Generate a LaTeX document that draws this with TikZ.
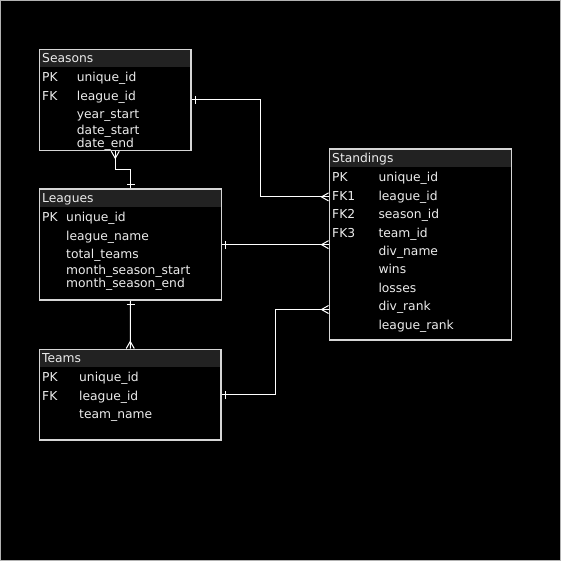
\documentclass[tikz,border=0pt]{standalone}
\usepackage{fontspec}
\setmainfont{DejaVu Sans}
\usetikzlibrary{calc}

\definecolor{hdrgray}{RGB}{34,34,34}
\definecolor{txtgray}{RGB}{236,236,236}
\definecolor{boxgray}{RGB}{214,214,214}

\tikzset{
  tbl/.style={draw=boxgray, line width=1.6pt, fill=black, inner sep=0pt,
    path picture={\fill[hdrgray] (path picture bounding box.north west)
      rectangle ([yshift=-18pt]path picture bounding box.north east);}},
  fld/.style={anchor=base west, inner sep=0pt, text=txtgray,
    font=\fontsize{12.3}{14}\selectfont},
  conn/.style={draw=white, line width=1pt},
}

% one-bar and crow's foot ends, angle points away from the table
\def\onebar(#1)(#2){\draw[conn] ($(#1)+(#2:3.5)+(#2+90:4)$) -- ($(#1)+(#2:3.5)+(#2-90:4)$);}
\def\crowfoot(#1)(#2){\draw[conn] ($(#1)+(#2+90:4)$) -- ($(#1)+(#2:7)$) -- ($(#1)+(#2-90:4)$);}

\begin{document}
\begin{tikzpicture}[x=1pt, y=-1pt]
			%%%%% BACKGROUND %%%%%
			\useasboundingbox (0, 0) rectangle (561, 561);
			\fill[black] (0, 0) rectangle (561, 561);
			\draw[gray!60, line width=1pt] (0.5, 0.5) rectangle (560.5, 560.5);
			
			%%%%% TABLES %%%%%
			\node[tbl, minimum width=151.5pt, minimum height=101pt] (seasons) at (115.25, 100) {};
			\node[tbl, minimum width=182pt, minimum height=110.7pt] (leagues) at (130.5, 244.65) {};
			\node[tbl, minimum width=181.5pt, minimum height=90.7pt] (teams) at (130.25, 394.65) {};
			\node[tbl, minimum width=182.2pt, minimum height=190.7pt] (standings) at (420.4, 244.65) {};
			
			% Seasons
			\node[fld] (sea-title) at (42, 62.7) {Seasons};
			\node[fld] (sea-pk) at (42, 81.5) {PK};
			\node[fld] (sea-fk) at (42, 100.2) {FK};
			\node[fld] (sea-f1) at (76.7, 81.5) {unique\_id};
			\node[fld] (sea-f2) at (76.7, 100.2) {league\_id};
			\node[fld] (sea-f3) at (76.7, 118.8) {year\_start};
			\node[fld] (sea-f4) at (76.7, 134.2) {date\_start};
			\node[fld] (sea-f5) at (76.7, 147.2) {date\_end};
			
			% Leagues
			\node[fld] (lea-title) at (42, 202.7) {Leagues};
			\node[fld] (lea-pk) at (42, 221.5) {PK};
			\node[fld] (lea-f1) at (66, 221.5) {unique\_id};
			\node[fld] (lea-f2) at (66, 240.2) {league\_name};
			\node[fld] (lea-f3) at (66, 258.8) {total\_teams};
			\node[fld] (lea-f4) at (66, 274.2) {month\_season\_start};
			\node[fld] (lea-f5) at (66, 287.2) {month\_season\_end};
			
			% Teams
			\node[fld] (tea-title) at (42, 362.7) {Teams};
			\node[fld] (tea-pk) at (42, 381.5) {PK};
			\node[fld] (tea-fk) at (42, 400.2) {FK};
			\node[fld] (tea-f1) at (79, 381.5) {unique\_id};
			\node[fld] (tea-f2) at (79, 400.2) {league\_id};
			\node[fld] (tea-f3) at (79, 418.8) {team\_name};
			
			% Standings
			\node[fld] (sta-title) at (332, 162.7) {Standings};
			\node[fld] (sta-pk) at (332, 181.5) {PK};
			\node[fld] (sta-fk1) at (332, 200.2) {FK1};
			\node[fld] (sta-fk2) at (332, 218.8) {FK2};
			\node[fld] (sta-fk3) at (332, 237.5) {FK3};
			\node[fld] (sta-f1) at (378.3, 181.5) {unique\_id};
			\node[fld] (sta-f2) at (378.3, 200.2) {league\_id};
			\node[fld] (sta-f3) at (378.3, 218.8) {season\_id};
			\node[fld] (sta-f4) at (378.3, 237.5) {team\_id};
			\node[fld] (sta-f5) at (378.3, 255.5) {div\_name};
			\node[fld] (sta-f6) at (378.3, 273.8) {wins};
			\node[fld] (sta-f7) at (378.3, 292.2) {losses};
			\node[fld] (sta-f8) at (378.3, 310.5) {div\_rank};
			\node[fld] (sta-f9) at (378.3, 329.2) {league\_rank};
			
			%%%%% RELATIONS %%%%%
			\coordinate (sta-in1) at ($(standings.north west)+(0, 48.4)$);
			\coordinate (sta-in3) at ($(standings.north west)+(0, 161)$);
			\coordinate (m1) at ($(seasons.east)!0.5!(sta-in1)$);
			\coordinate (m2) at ($(seasons.south)!0.5!(leagues.north)$);
			\coordinate (m3) at ($(teams.east)!0.5!(sta-in3)$);
			
			\draw[conn] (seasons.east) -| (m1) |- (sta-in1);
			\onebar(seasons.east)(0)
			\crowfoot(sta-in1)(180)
			
			\draw[conn] (seasons.south) |- (m2) -| (leagues.north);
			\crowfoot(seasons.south)(90)
			\onebar(leagues.north)(270)
			
			\draw[conn] (leagues.east) -- (standings.west);
			\onebar(leagues.east)(0)
			\crowfoot(standings.west)(180)
			
			\draw[conn] (leagues.south) -- (teams.north);
			\onebar(leagues.south)(90)
			\crowfoot(teams.north)(270)
			
			\draw[conn] (teams.east) -| (m3) |- (sta-in3);
			\onebar(teams.east)(0)
			\crowfoot(sta-in3)(180)
			
			%%%%% END %%%%%
\end{tikzpicture}
\end{document}
